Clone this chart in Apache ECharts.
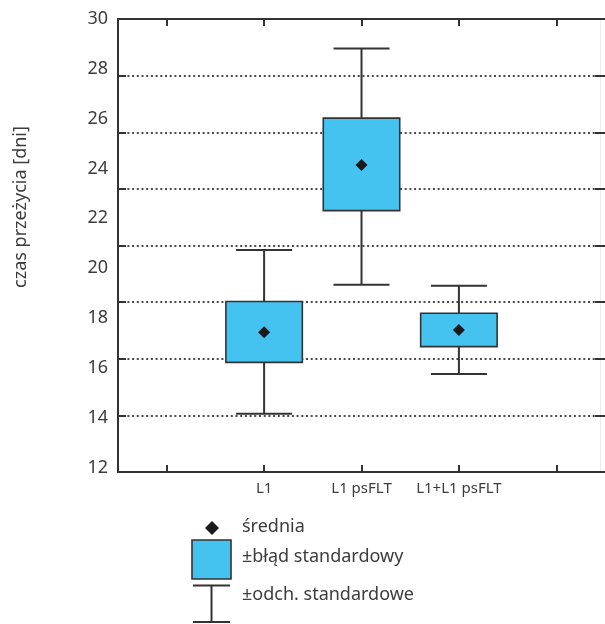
<!DOCTYPE html>
<html>
<head>
<meta charset="utf-8">
<script src="https://cdn.jsdelivr.net/npm/echarts@6/dist/echarts.min.js"></script>
<style>
html,body{margin:0;padding:0;background:#fff;}
#chart{width:605px;height:624px;}
</style>
</head>
<body>
<div id="chart"></div>
<script>
// ---- data ----
var categories = ['', 'L1', 'L1 psFLT', 'L1+L1 psFLT', ''];
var groupIndex = [1, 2, 3];
var meanValues = [17.43, 24.14, 17.52];
var seLow      = [16.22, 22.31, 16.85];
var seHigh     = [18.66, 26.02, 18.19];
var sdLow      = [14.16, 19.33, 15.75];
var sdHigh     = [20.73, 28.82, 19.29];
var yTickLabels = [12, 14, 16, 18, 20, 22, 24, 26, 28, 30];
var legendTexts = ['średnia', '±błąd standardowy', '±odch. standardowe'];
var yTitle = 'czas przeżycia [dni]';

var FONT = '"Noto Sans", "Open Sans", sans-serif';
var INK = '#333333';
var TEXT = '#3c3c3c';
var BLUE = '#44c2f0';

var seriesData = groupIndex.map(function (g, i) {
  return [g, sdLow[i], seLow[i], meanValues[i], seHigh[i], sdHigh[i]];
});

function diamond(cx, cy, r) {
  return [[cx, cy - r], [cx + r, cy], [cx, cy + r], [cx - r, cy]];
}

var chart = echarts.init(document.getElementById('chart'), null, {renderer: 'canvas'});

var option = {
  animation: false,
  backgroundColor: '#ffffff',
  grid: {left: 118, top: 19, width: 490, height: 453, containLabel: false},
  xAxis: [{
    type: 'category',
    data: categories,
    position: 'bottom',
    boundaryGap: true,
    axisLine: {show: true, onZero: false, lineStyle: {color: INK, width: 2}},
    axisTick: {show: true, inside: true, alignWithLabel: true, interval: 0, length: 7, lineStyle: {color: INK, width: 2}},
    axisLabel: {interval: 0, margin: 9, fontFamily: FONT, fontSize: 15, color: TEXT},
    splitLine: {show: false}
  }, {
    type: 'category',
    data: categories,
    position: 'top',
    boundaryGap: true,
    axisLine: {show: true, onZero: false, lineStyle: {color: INK, width: 2}},
    axisTick: {show: true, inside: true, alignWithLabel: true, interval: 0, length: 7, lineStyle: {color: INK, width: 2}},
    axisLabel: {show: false},
    splitLine: {show: false}
  }],
  yAxis: [{
    type: 'value',
    position: 'left',
    min: 11.82,
    max: 30,
    axisLine: {show: true, onZero: false, lineStyle: {color: INK, width: 2}},
    axisTick: {show: false},
    axisLabel: {show: true, customValues: yTickLabels, margin: 10, padding: [0, 0, 3, 0],
      fontFamily: FONT, fontSize: 18, color: TEXT},
    splitLine: {show: false}
  }, {
    type: 'value',
    position: 'right',
    min: 0,
    max: 8,
    interval: 1,
    axisLine: {show: false, onZero: false},
    axisTick: {show: true, inside: true, length: 10, lineStyle: {color: INK, width: 2}},
    axisLabel: {show: false},
    splitLine: {show: true, showMinLine: false, showMaxLine: false,
      lineStyle: {color: '#4a4a4a', width: 2, type: [2, 2.7]}}
  }, {
    type: 'value',
    position: 'left',
    min: 0,
    max: 8,
    interval: 1,
    axisLine: {show: false, onZero: false},
    axisTick: {show: true, inside: true, length: 8, lineStyle: {color: INK, width: 2}},
    axisLabel: {show: false},
    splitLine: {show: false}
  }],
  series: [{
    type: 'custom',
    xAxisIndex: 0,
    yAxisIndex: 0,
    data: seriesData,
    encode: {x: 0, y: [1, 2, 3, 4, 5]},
    renderItem: function (params, api) {
      var x = api.value(0);
      var c = api.coord([x, api.value(3)]);
      var yLoSD = api.coord([x, api.value(1)])[1];
      var yLoSE = api.coord([x, api.value(2)])[1];
      var yHiSE = api.coord([x, api.value(4)])[1];
      var yHiSD = api.coord([x, api.value(5)])[1];
      var band = api.size([1, 0])[0];
      var boxW = band * 0.785;
      var capW = band * 0.575;
      var cx = c[0];
      var lineStyle = {stroke: INK, lineWidth: 2};
      return {
        type: 'group',
        children: [
          {type: 'line', shape: {x1: cx, y1: yHiSD, x2: cx, y2: yLoSD}, style: lineStyle},
          {type: 'line', shape: {x1: cx - capW / 2, y1: yHiSD, x2: cx + capW / 2, y2: yHiSD}, style: lineStyle},
          {type: 'line', shape: {x1: cx - capW / 2, y1: yLoSD, x2: cx + capW / 2, y2: yLoSD}, style: lineStyle},
          {type: 'rect', shape: {x: cx - boxW / 2, y: yHiSE, width: boxW, height: yLoSE - yHiSE},
            style: {fill: BLUE, stroke: INK, lineWidth: 1.6}},
          {type: 'polygon', shape: {points: diamond(cx, c[1], 6)}, style: {fill: '#1a1a1a'}}
        ]
      };
    }
  }],
  graphic: [
    {type: 'text', x: 21, y: 207, rotation: Math.PI / 2,
      style: {text: yTitle, textAlign: 'center', textVerticalAlign: 'middle', font: '18px ' + FONT, fill: TEXT}},
    {type: 'line', shape: {x1: 600.5, y1: 19, x2: 600.5, y2: 472}, style: {stroke: '#ececec', lineWidth: 1}},
    {type: 'polygon', shape: {points: diamond(212, 528, 7)}, style: {fill: '#1a1a1a'}},
    {type: 'rect', shape: {x: 192, y: 540, width: 39, height: 39}, style: {fill: BLUE, stroke: INK, lineWidth: 1.6}},
    {type: 'line', shape: {x1: 193, y1: 585.5, x2: 230, y2: 585.5}, style: {stroke: INK, lineWidth: 2}},
    {type: 'line', shape: {x1: 211.5, y1: 585.5, x2: 211.5, y2: 622}, style: {stroke: INK, lineWidth: 2}},
    {type: 'line', shape: {x1: 193, y1: 622, x2: 230, y2: 622}, style: {stroke: INK, lineWidth: 2}},
    {type: 'text', x: 242, y: 527, style: {text: legendTexts[0], textAlign: 'left', textVerticalAlign: 'middle', font: '18px ' + FONT, fill: TEXT}},
    {type: 'text', x: 242, y: 557, style: {text: legendTexts[1], textAlign: 'left', textVerticalAlign: 'middle', font: '18px ' + FONT, fill: TEXT}},
    {type: 'text', x: 242, y: 595, style: {text: legendTexts[2], textAlign: 'left', textVerticalAlign: 'middle', font: '18px ' + FONT, fill: TEXT}}
  ]
};
chart.setOption(option);
</script>
</body>
</html>
